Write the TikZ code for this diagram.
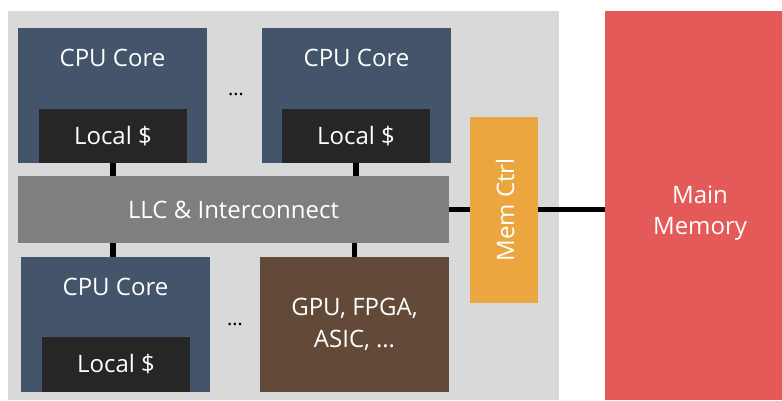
\documentclass[tikz,border=0pt]{standalone}
\usepackage{fontspec}
\setmainfont{Open Sans}
\definecolor{bgGray}{HTML}{D9D9D9}
\definecolor{coreBlue}{HTML}{44546A}
\definecolor{cacheBlack}{HTML}{262626}
\definecolor{llcGray}{HTML}{7F7F7F}
\definecolor{ctrlOrange}{HTML}{EBA640}
\definecolor{accelBrown}{HTML}{634A38}
\definecolor{memRed}{HTML}{E35A59}
\tikzset{
  px/.style={x=0.75pt, y=-0.75pt},
  sz/.style 2 args={minimum width=#1*0.75pt, minimum height=#2*0.75pt},
  blk/.style={rectangle, draw=none, inner sep=0pt, text=white, align=center,
              font=\fontsize{18}{23.5}\selectfont},
  wire/.style={line width=3.8pt, black},
}
\begin{document}
\begin{tikzpicture}[px]
  \useasboundingbox (0,0) rectangle (782,400);
  % chip package
  \fill[bgGray] (8,11) rectangle (559,400);
  % main memory
  \node[blk, fill=memRed, sz={177}{389}] (mem) at (693.5,205.5) {};
  \node[blk] (memtxt) at (700,213) {Main\\Memory};

  % top row of cores
  \node[blk, fill=coreBlue, sz={189}{135}] (core1) at (112.5,95.5) {};
  \node[blk] (core1txt) at (112.5,58) {CPU Core};
  \node[blk, fill=cacheBlack, sz={148}{54}] (l1) at (113,136) {Local \$};

  \node[blk, fill=coreBlue, sz={189}{135}] (core2) at (356.5,95.5) {};
  \node[blk] (core2txt) at (356.5,58) {CPU Core};
  \node[blk, fill=cacheBlack, sz={148}{54}] (l2) at (356,136) {Local \$};

  \node (dots1) at (236,94) {\fontsize{15}{16}\selectfont\dots};

  % shared cache and interconnect
  \node[blk, fill=llcGray, sz={431}{67}] (llc) at (233.5,209.5) {LLC \& Interconnect};

  % memory controller
  \node[blk, fill=ctrlOrange, sz={68}{186}] (mc) at (504,210) {};
  \node[blk, rotate=90] (mctxt) at (505,210) {Mem Ctrl};

  % bottom row
  \node[blk, fill=coreBlue, sz={189}{135}] (core3) at (115.5,324.5) {};
  \node[blk] (core3txt) at (115.5,287) {CPU Core};
  \node[blk, fill=cacheBlack, sz={148}{55}] (l3) at (116,364.5) {Local \$};

  \node[blk, fill=accelBrown, sz={189}{135}] (acc) at (354.5,324.5) {GPU, FPGA,\\ASIC, \dots};

  \node (dots2) at (235,324) {\fontsize{15}{16}\selectfont\dots};

  % links
  \draw[wire] (l1.south) -- (l1.south |- llc.north);
  \draw[wire] (l2.south) -- (l2.south |- llc.north);
  \draw[wire] (l1.south |- llc.south) -- (l1.south |- core3.north);
  \draw[wire] (acc.north) -- (acc.north |- llc.south);
  \draw[wire] (llc.east) -- (llc.east -| mc.west);
  \draw[wire] (mc.east |- llc.east) -- (mem.west |- llc.east);
\end{tikzpicture}
\end{document}
